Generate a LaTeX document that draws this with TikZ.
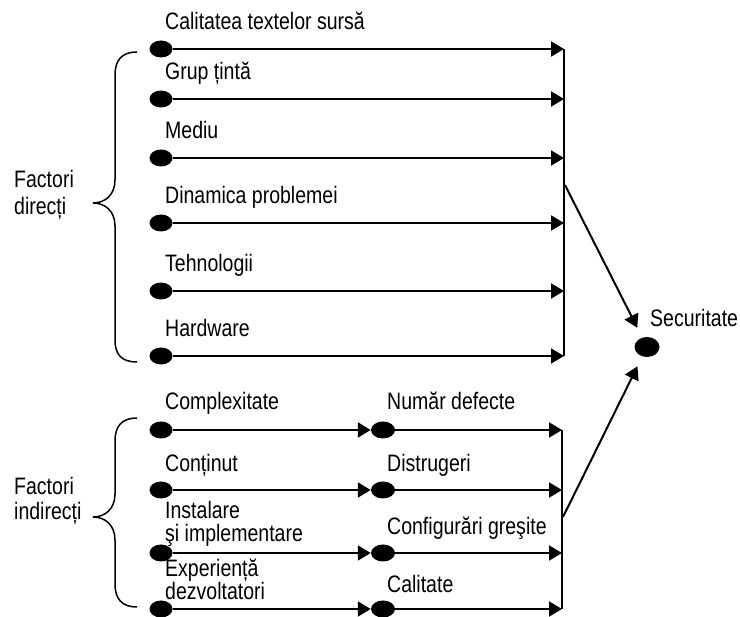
\documentclass[tikz,border=0pt]{standalone}
\usepackage{fontspec}
\setmainfont{Liberation Sans}[FakeStretch=0.82]
\usetikzlibrary{positioning,shapes.geometric,arrows.meta}
\lineskiplimit=-20pt
\tikzset{
	blob/.style={ellipse,fill=black,inner sep=0pt,minimum width=23pt,minimum height=17pt},
	conn/.style={line width=2pt,-{Triangle[length=13pt,width=15pt]}},
	bar/.style={line width=2pt},
	brace/.style={line width=1.5pt},
	lbl/.style={anchor=base west,inner sep=0pt,align=left,font=\fontsize{23.8}{23}\selectfont}
}
\begin{document}
\begin{tikzpicture}[x=1pt,y=-1pt]
		\useasboundingbox (0,0) rectangle (740,617);
		\coordinate (barT) at (564,49);
		\coordinate (barU) at (564,356);
		\coordinate (barD) at (562,430);
		\coordinate (barE) at (562,609);
		\foreach \i/\y/\t in {1/49/Calitatea textelor sursă,2/99/Grup țintă,3/158/Mediu,4/223/Dinamica problemei,5/291/Tehnologii,6/356/Hardware}{
			\node[blob] (d\i) at (161,\y) {};
			\node[lbl] (t\i) at (165,\y-19) {\t};
			\draw[conn] (d\i) -- (d\i -| barT);
		}
		\foreach \i/\y/\a/\ya/\b/\yb in {1/430/Complexitate/410/Număr defecte/410,2/490/Conținut/472/Distrugeri/472,3/553/Instalare\\şi implementare/542/Configurări greşite/535,4/609/Experiență\\dezvoltatori/600/Calitate/593}{
			\node[blob] (e\i) at (161,\y) {};
			\node[blob,minimum width=24pt] (f\i) at (383,\y) {};
			\node[lbl] (u\i) at (165,\ya) {\a};
			\node[lbl] (v\i) at (387,\yb) {\b};
			\draw[conn] (e\i) -- (f\i);
			\draw[conn] (f\i) -- (f\i -| barD);
		}
		\draw[bar] (barT) -- (barU);
		\draw[bar] (barD) -- (barE);
		\node[blob,minimum width=25pt,minimum height=20pt] (sec) at (647,347) {};
		\node[lbl] (secT) at (650,327) {Securitate};
		\coordinate (jT) at (565,185);
		\coordinate (jB) at (563,517);
		\draw[conn,shorten >=11pt] (jT) -- (sec);
		\draw[conn,shorten >=11pt] (jB) -- (sec);
		\node[lbl] (fd) at (14,215) {Factori\\[4pt]direcți};
		\node[lbl] (fi) at (14,520) {Factori\\[2pt]indirecți};
		\draw[brace] (137,52) .. controls (122,52) and (115,60) .. (115,75) -- (115,180) .. controls (115,195) and (105,203) .. (93,203) .. controls (105,203) and (115,211) .. (115,226) -- (115,340) .. controls (115,355) and (122,362) .. (137,362);
		\draw[brace] (137,418) .. controls (122,418) and (115,426) .. (115,441) -- (115,494) .. controls (115,509) and (105,517) .. (93,517) .. controls (105,517) and (115,525) .. (115,540) -- (115,584) .. controls (115,599) and (122,607) .. (137,607);
\end{tikzpicture}
\end{document}
